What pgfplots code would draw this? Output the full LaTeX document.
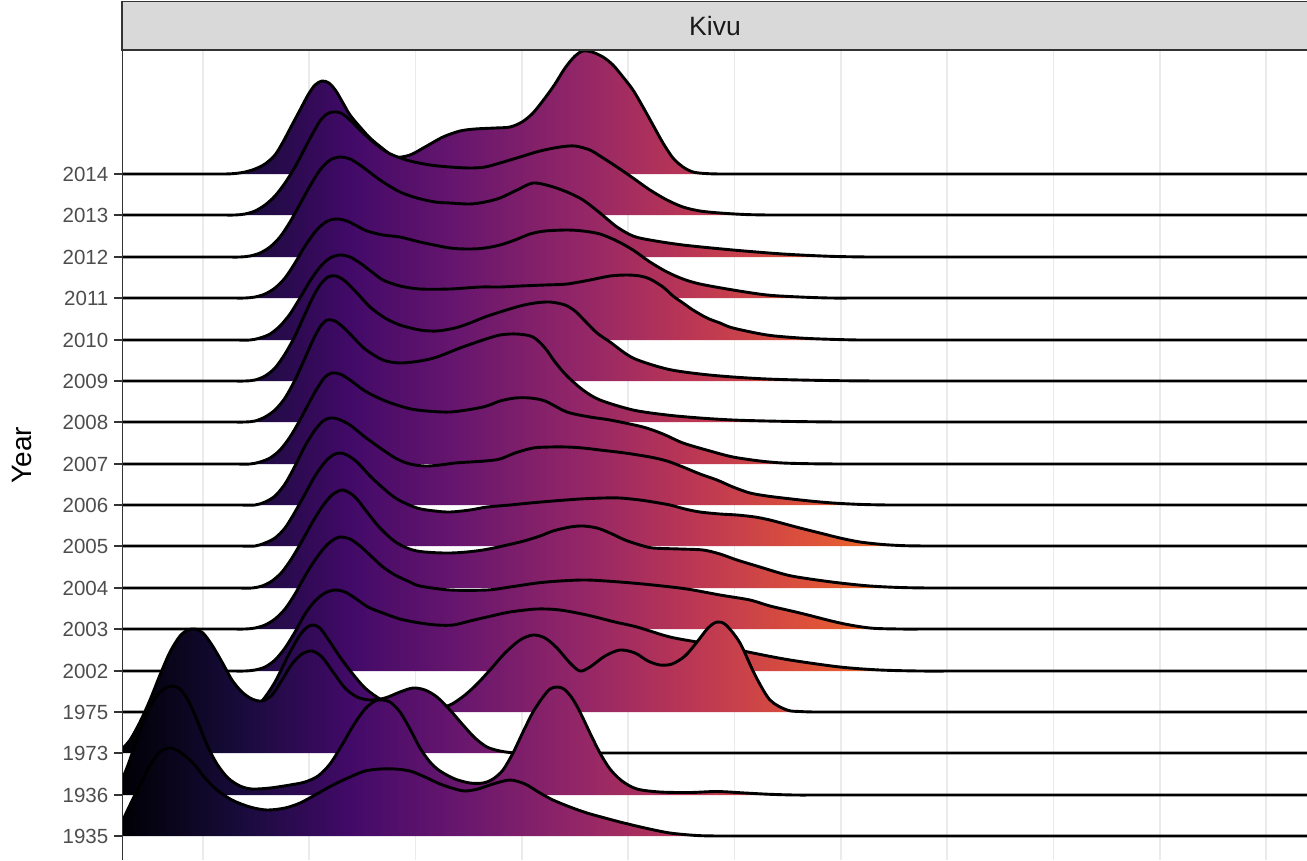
\documentclass[border=0pt]{standalone}
\usepackage{pgfplots}
\pgfplotsset{compat=1.18}
\usepackage{pgfplotstable}
\usepackage{fontspec}
\setmainfont{Liberation Sans}
\definecolor{inf0}{HTML}{000004}
\definecolor{inf1}{HTML}{160B39}
\definecolor{inf2}{HTML}{420A68}
\definecolor{inf3}{HTML}{6A176E}
\definecolor{inf4}{HTML}{932667}
\definecolor{inf5}{HTML}{BC3754}
\definecolor{inf6}{HTML}{DD513A}
\definecolor{inf7}{HTML}{F37819}
\definecolor{inf8}{HTML}{FCA50A}
\definecolor{inf9}{HTML}{F6D746}
\definecolor{inf10}{HTML}{FCFFA4}
\definecolor{gridc}{HTML}{EBEBEB}
\definecolor{gtwenty}{HTML}{333333}
\definecolor{gthirty}{HTML}{4D4D4D}
\definecolor{gten}{HTML}{1A1A1A}
\definecolor{stripc}{HTML}{D9D9D9}
\pgfdeclarehorizontalshading{inferno}{100bp}{color(0bp)=(inf0); color(25bp)=(inf0); color(29.83bp)=(inf1); color(34.66bp)=(inf2); color(39.49bp)=(inf3); color(44.33bp)=(inf4); color(49.16bp)=(inf5); color(53.99bp)=(inf6); color(58.82bp)=(inf7); color(63.65bp)=(inf8); color(68.48bp)=(inf9); color(73.31bp)=(inf10); color(100bp)=(inf10)}

% x: horizontal position (px), y: vertical position of the ridge outline (px from top)
\pgfplotstableread{
x y
122 174
150 174
185 174
210 174
225 174
235 173.5
245 172
255 169
265 164
275 155
283 142
292 125
300 110
308 95
315 85
322 81
329 83
336 91
343 103
350 115
360 127
370 138
382 148
395 157
410 155
425 147
443 137
460 131
475 129
495 128
510 127
522 122
533 113
545 98
555 84
565 68
575 56
583 51
592 52
603 57
613 65
623 77
633 90
643 107
653 125
663 143
673 158
683 167
693 172
705 173.5
720 174
740 174
770 174
820 174
920 174
1100 174
1307 174
}\rA
\pgfplotstableread{
x y
122 215
160 215
195 215
220 215
235 215
245 214
255 211
265 205
275 196
285 183
295 167
305 148
313 133
320 121
327 114
333 112
341 113
350 120
360 130
372 141
385 151
395 156
410 161
430 165
450 167
470 168
485 167
500 163
520 157
540 151
560 147
575 146
590 150
600 156
617 167
633 178
650 190
667 200
683 207
700 211
720 213
745 214.5
770 215
800 215
850 215
950 215
1120 215
1307 215
}\rB
\pgfplotstableread{
x y
122 257
165 257
200 257
225 257
240 257
250 256
260 253
270 247
280 237
290 222
300 204
310 186
320 170
330 160
340 157
350 159
360 165
372 174
383 182
400 192
417 198
435 202
450 203
470 204
485 202
500 198
517 190
533 183
550 186
567 192
583 200
600 213
617 227
633 236
650 240
683 245
733 250
783 254
830 256.3
870 257
910 257
960 257
1040 257
1160 257
1307 257
}\rC
\pgfplotstableread{
x y
122 298
170 298
205 298
230 298
245 298
255 297
265 294
275 288
285 278
295 263
305 246
315 232
323 224
330 220
338 219
347 221
357 226
367 231
383 235
400 237
420 242
450 248
470 249
485 248
500 245
515 240
530 234
545 231
567 230
583 231
600 234
617 241
633 250
650 262
667 272
683 279
700 284
733 290
767 295
800 297
830 298
860 298
900 298
980 298
1120 298
1307 298
}\rD
\pgfplotstableread{
x y
122 340
175 340
210 340
235 340
250 340
260 338
270 334
280 326
290 314
300 298
310 281
320 267
330 258
340 255
350 257
360 263
372 272
383 280
400 286
420 289
450 289
480 287
500 287
520 286
545 285
567 284
590 280
610 276
627 275
640 276
650 279
663 287
673 296
683 303
693 310
707 318
720 323
733 328
767 335
800 338
830 339.3
860 340
890 340
930 340
1010 340
1140 340
1307 340
}\rE
\pgfplotstableread{
x y
122 381
170 381
205 381
230 381
245 381
255 380
265 376
275 368
285 354
295 336
305 314
313 297
320 285
328 277
336 276
345 281
357 293
370 307
385 318
400 325
420 330
437 331
455 328
470 323
485 317
500 312
520 306
535 303
550 302
565 305
575 311
585 321
597 333
610 342
633 358
667 369
700 374
733 377
767 379
800 380
840 380.7
880 381
910 381
950 381
1020 381
1140 381
1307 381
}\rF
\pgfplotstableread{
x y
122 422
170 422
205 422
230 422
245 422
255 421
265 417
275 410
285 398
295 380
305 358
313 340
320 327
327 320
335 321
343 327
352 336
365 349
383 360
400 363
420 361
437 357
460 348
483 340
500 335
517 334
533 337
545 348
555 362
567 376
583 390
600 400
633 410
667 415
700 418
733 420
767 421
800 421.6
840 422
880 422
930 422
1020 422
1150 422
1307 422
}\rG
\pgfplotstableread{
x y
122 464
175 464
210 464
235 464
250 464
260 462
270 458
280 450
290 437
300 420
310 401
318 387
325 377
332 373
340 374
350 380
365 391
383 400
400 406
417 410
450 412
483 407
500 401
515 398
530 398
545 401
567 412
590 417
610 420
643 427
663 434
683 443
710 451
733 457
760 461
783 463
815 463.8
850 464
885 464
930 464
1010 464
1140 464
1307 464
}\rH
\pgfplotstableread{
x y
122 505
180 505
215 505
240 505
255 505
265 502
275 496
285 484
295 466
305 446
315 430
323 421
330 418
338 419
350 425
365 437
383 450
397 459
410 464
425 466
440 465
455 463
470 462
485 461
500 459
515 453
533 448
550 447
567 447
583 448
600 450
625 453
650 457
667 461
683 467
700 474
717 480
733 487
750 493
767 496
783 498
810 501
833 503
860 504.4
890 505
925 505
970 505
1050 505
1170 505
1307 505
}\rI
\pgfplotstableread{
x y
122 546
180 546
215 546
240 546
255 546
265 543
275 538
285 528
295 512
305 494
315 476
325 462
333 455
340 453
347 455
357 462
370 476
383 488
397 499
417 508
435 511
450 512
470 510
487 507
510 505
530 503
553 501
580 499
603 498
620 498
640 500
653 502
670 505
685 509
700 512
720 514
737 515
755 517
770 520
785 524
800 528
820 533
840 538
860 542
883 544.5
905 545.7
930 546
960 546
1000 546
1080 546
1190 546
1307 546
}\rJ
\pgfplotstableread{
x y
122 588
177 588
212 588
237 588
252 588
262 586
272 581
282 572
292 558
302 541
312 523
322 507
332 495
343 490
355 497
367 512
380 528
397 543
417 551
450 553
483 550
520 542
540 536
553 531
570 527
583 526
597 528
610 533
625 540
640 545
653 548
680 549
703 550
720 554
737 560
760 567
787 575
810 579
840 583
870 586
900 587.5
930 588
960 588
1000 588
1080 588
1190 588
1307 588
}\rK
\pgfplotstableread{
x y
122 629
170 629
205 629
230 629
245 629
255 628
265 625
275 619
285 609
295 594
305 576
315 560
325 547
333 540
340 537
350 539
360 546
372 557
383 567
395 575
410 582
420 586
450 590
487 590
510 587
537 583
560 581
587 580
620 582
653 585
687 589
720 595
750 600
770 606
800 613
840 623
870 628
900 629
930 629
970 629
1040 629
1160 629
1307 629
}\rL
\pgfplotstableread{
x y
122 671
170 671
205 671
230 671
245 671
255 670
265 667
275 660
285 648
295 632
305 614
315 601
325 593
335 590
345 592
355 598
368 607
383 613
400 619
420 623
437 625
453 625
470 621
487 617
510 612
537 609
560 610
587 615
615 622
637 627
670 637
703 643
730 648
753 653
790 660
840 667
880 670
920 671
960 671
1010 671
1100 671
1200 671
1307 671
}\rM
\pgfplotstableread{
x y
122 712
170 712
205 712
228 712
240 712
250 710
262 701
275 682
288 656
298 638
305 629
312 625
320 628
330 642
340 657
352 673
365 688
380 699
395 705
410 708
425 709
440 708
452 704
465 695
477 684
490 670
505 653
520 640
533 635
545 638
557 648
570 663
580 671
590 667
605 656
620 650
635 653
648 661
660 665
672 664
685 656
697 642
708 628
717 622
726 625
740 643
755 675
770 700
787 710
800 711.5
815 712
835 712
865 712
920 712
1020 712
1150 712
1307 712
}\rN
\pgfplotstableread{
x y
122 753
122 749
130 740
140 722
150 700
160 675
170 652
180 636
188 630
195 629
203 633
212 645
222 662
232 680
242 692
252 699
262 701
272 695
282 680
292 664
302 654
312 651
322 657
333 672
345 688
357 697
370 700
385 698
400 692
413 688
425 690
437 697
450 710
463 725
475 738
487 747
500 751
515 753
530 753
550 753
580 753
640 753
760 753
920 753
1100 753
1307 753
}\rO
\pgfplotstableread{
x y
122 795
122 780
128 765
135 745
143 722
150 707
158 694
166 688
173 686
180 689
188 700
197 720
207 745
217 764
228 778
240 786
252 789
270 788
290 785
305 782
318 776
330 764
342 745
353 726
365 709
375 701
382 700
390 702
400 712
410 729
420 748
430 762
440 771
455 779
470 783
483 783
493 779
503 770
513 753
523 732
533 712
543 697
550 689
557 687
564 689
572 698
580 712
590 733
600 753
610 769
622 781
637 789
660 792
690 792.5
717 791.5
745 793
770 794.3
795 795
820 795
860 795
930 795
1050 795
1200 795
1307 795
}\rP
\pgfplotstableread{
x y
122 836
122 822
130 805
140 785
150 765
160 752
170 748
180 752
193 763
205 778
217 790
232 800
250 807
267 810
285 808
300 803
315 795
333 785
350 777
365 771
380 769
395 769
410 771
425 777
440 784
455 789
465 791
478 789
493 784
510 780
525 784
540 793
553 800
570 807
587 813
605 818
620 822
645 828
670 833
697 835.5
720 836
745 836
780 836
850 836
960 836
1120 836
1307 836
}\rQ

\pgfplotsset{
  ridgefill/.style={draw=none, shade, shading=inferno, smooth, tension=0.5, forget plot},
  ridgeline/.style={black, line width=2.9pt, line join=round, smooth, tension=0.5, forget plot},
}

\begin{document}
\begin{tikzpicture}[x=1pt,y=1pt]
\begin{axis}[
  at={(122pt,0pt)}, anchor=south west,
  scale only axis, width=1185pt, height=810pt,
  xmin=122, xmax=1307, ymin=50, ymax=860, y dir=reverse,
  axis line style={draw=none},
  xtick={202.7,309.05,415.4,521.75,628.1,734.45,840.8,947.15,1053.5,1159.85,1266.2},
  xticklabels={},
  x tick style={draw=none},
  xmajorgrids, ymajorgrids=false,
  major grid style={color=gridc, line width=1.7pt},
  ytick={174,215,257,298,340,381,422,464,505,546,588,629,671,712,753,795,836},
  yticklabels={2014,2013,2012,2011,2010,2009,2008,2007,2006,2005,2004,2003,2002,1975,1973,1936,1935},
  ytick pos=left, tick align=outside, major tick length=8pt,
  y tick style={color=gtwenty, line width=1.2pt},
  yticklabel style={font=\fontsize{20.5}{22}\selectfont, text=gthirty, inner sep=0pt, xshift=-5.5pt},
  clip=true,
]
\addplot[ridgefill] table {\rA} -- cycle;
\addplot[ridgeline] table {\rA};
\addplot[ridgefill] table {\rB} -- cycle;
\addplot[ridgeline] table {\rB};
\addplot[ridgefill] table {\rC} -- cycle;
\addplot[ridgeline] table {\rC};
\addplot[ridgefill] table {\rD} -- cycle;
\addplot[ridgeline] table {\rD};
\addplot[ridgefill] table {\rE} -- cycle;
\addplot[ridgeline] table {\rE};
\addplot[ridgefill] table {\rF} -- cycle;
\addplot[ridgeline] table {\rF};
\addplot[ridgefill] table {\rG} -- cycle;
\addplot[ridgeline] table {\rG};
\addplot[ridgefill] table {\rH} -- cycle;
\addplot[ridgeline] table {\rH};
\addplot[ridgefill] table {\rI} -- cycle;
\addplot[ridgeline] table {\rI};
\addplot[ridgefill] table {\rJ} -- cycle;
\addplot[ridgeline] table {\rJ};
\addplot[ridgefill] table {\rK} -- cycle;
\addplot[ridgeline] table {\rK};
\addplot[ridgefill] table {\rL} -- cycle;
\addplot[ridgeline] table {\rL};
\addplot[ridgefill] table {\rM} -- cycle;
\addplot[ridgeline] table {\rM};
\addplot[ridgefill] table {\rN} -- cycle;
\addplot[ridgeline] table {\rN};
\addplot[ridgefill] table {\rO} -- cycle;
\addplot[ridgeline, skip coords between index={0}{1}] table {\rO};
\addplot[ridgefill] table {\rP} -- cycle;
\addplot[ridgeline, skip coords between index={0}{1}] table {\rP};
\addplot[ridgefill] table {\rQ} -- cycle;
\addplot[ridgeline, skip coords between index={0}{1}] table {\rQ};
\draw[color=gtwenty, line width=1.3pt] (rel axis cs:0,0) -- (rel axis cs:0,1);
\end{axis}
\draw[fill=stripc, draw=gtwenty, line width=1.3pt] (122,810) rectangle (1320,858.5);
\node[font=\fontsize{26.5}{28}\selectfont, text=gten] at (715,834) {Kivu};
\node[rotate=90, font=\fontsize{28}{30}\selectfont, text=black] at (22,405) {Year};
\pgfresetboundingbox
\useasboundingbox (0,0) rectangle (1307,860);
\end{tikzpicture}
\end{document}
